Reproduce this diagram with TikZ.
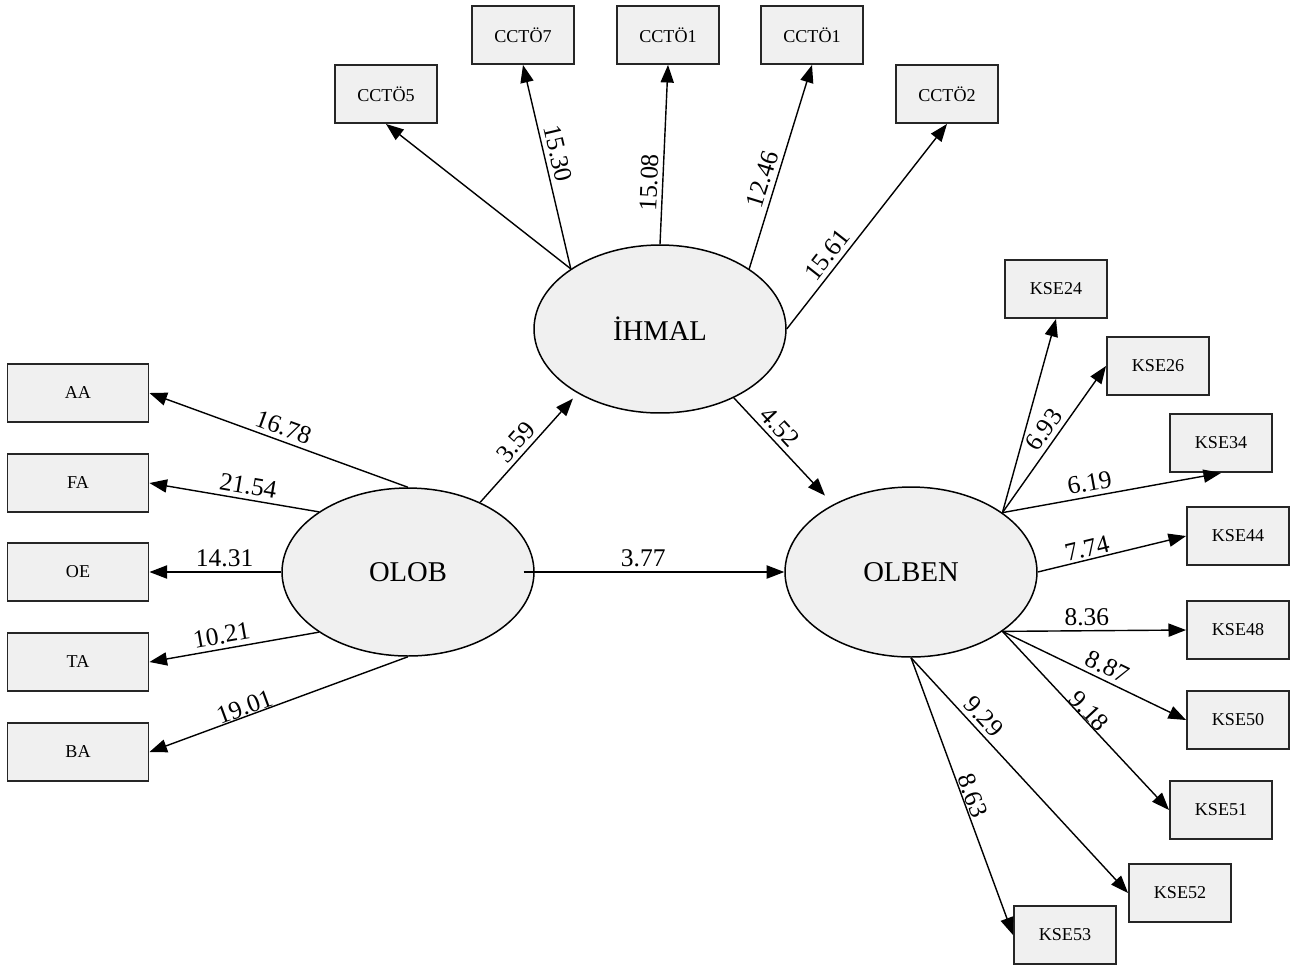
\documentclass[tikz,border=0pt]{standalone}
\usepackage{fontspec}
\setmainfont{Liberation Serif}
\usetikzlibrary{arrows.meta,shapes.geometric}

\tikzset{
  box/.style={draw=black!85, line width=1.1pt, fill=black!6, minimum width=2.04cm, minimum height=1.16cm, inner sep=0pt, font=\fontsize{10.3}{12}\selectfont},
  widebox/.style={box, minimum width=2.82cm},
  latent/.style={ellipse, draw, line width=0.85pt, fill=black!6, minimum width=5.04cm, minimum height=3.36cm, inner sep=0pt, font=\fontsize{16.3}{19}\selectfont},
  arr/.style={line width=0.8pt, -{Triangle[length=10pt,width=7.5pt]}},
  lbl/.style={font=\fontsize{14.5}{17}\selectfont, sloped, above, inner sep=2.5pt}
}

\begin{document}
\begin{tikzpicture}[x=0.02cm, y=-0.02cm]
\useasboundingbox (0,0) rectangle (1291,965);

\node [latent] (olob) at (408,572) {OLOB};
\node [latent] (ihmal) at (660,329) {İHMAL};
\node [latent, minimum height=3.4cm] (olben) at (911,572) {OLBEN};

\node [widebox] (aa) at (78,393) {AA};
\node [widebox] (fa) at (78,483) {FA};
\node [widebox] (oe) at (78,572) {OE};
\node [widebox] (ta) at (78,662) {TA};
\node [widebox] (ba) at (78,752) {BA};

\node [box] (cct5) at (386,94) {CCTÖ5};
\node [box] (cct7) at (523,35) {CCTÖ7};
\node [box] (cct1a) at (668,35) {CCTÖ1};
\node [box] (cct1b) at (812,35) {CCTÖ1};
\node [box] (cct2) at (947,94) {CCTÖ2};

\node [box] (kse24) at (1056,289) {KSE24};
\node [box] (kse26) at (1158,366) {KSE26};
\node [box] (kse34) at (1221,443) {KSE34};
\node [box] (kse44) at (1238,536) {KSE44};
\node [box] (kse48) at (1238,630) {KSE48};
\node [box] (kse50) at (1238,720) {KSE50};
\node [box] (kse51) at (1221,810) {KSE51};
\node [box] (kse52) at (1180,893) {KSE52};
\node [box] (kse53) at (1065,935) {KSE53};

\draw [arr] (olob.north) -- node (l1) [lbl, pos=0.5] {16.78} (aa.east);
\draw [arr] (olob.146) -- node (l2) [lbl, pos=0.43] {21.54} (fa.east);
\draw [arr] (olob.west) -- node (l3) [lbl, pos=0.43] {14.31} (oe.east);
\draw [arr] (olob.214) -- node (l4) [lbl, pos=0.56] {10.21} (ta.east);
\draw [arr] (olob.south) -- node (l5) [lbl, pos=0.62, inner sep=0pt] {19.01} (ba.east);

\draw [arr, shorten >=0.14cm] (olob.44) -- node (l6) [lbl, pos=0.47] {3.59} (ihmal.218);
\draw [arr, shorten <=-0.22cm] (olob.east) -- node (l7) [lbl, pos=0.435] {3.77} (olben.west);
\draw [arr, shorten >=0.24cm] (ihmal.-43) -- node (l8) [lbl, pos=0.36] {4.52} (olben.139);

\draw [arr] (ihmal.146) -- (cct5.south);
\draw [arr] (ihmal.146) -- node (l9) [lbl, pos=0.55] {15.30} (cct7.south);
\draw [arr] (ihmal.north) -- node (l10) [lbl, pos=0.34] {15.08} (cct1a.south);
\draw [arr] (ihmal.34) -- node (l11) [lbl, pos=0.42] {12.46} (cct1b.south);
\draw [arr] (ihmal.east) -- node (l12) [lbl, pos=0.32] {15.61} (cct2.south);

\draw [arr] (olben.33) -- (kse24.south);
\draw [arr] (olben.33) -- node (l13) [lbl, pos=0.51] {6.93} (kse26.west);
\draw [arr] (olben.33) -- node (l14) [lbl, pos=0.41] {6.19} (kse34.south);
\draw [arr] (olben.east) -- node (l15) [lbl, pos=0.35, inner sep=1pt] {7.74} (kse44.west);
\draw [arr] (olben.-33) -- node (l16) [lbl, pos=0.46] {8.36} (kse48.west);
\draw [arr] (olben.-33) -- node (l17) [lbl, pos=0.54] {8.87} (kse50.west);
\draw [arr] (olben.-33) -- node (l18) [lbl, pos=0.48, inner sep=0pt] {9.18} (kse51.west);
\draw [arr] (olben.south) -- node (l19) [lbl, pos=0.29] {9.29} (kse52.west);
\draw [arr] (olben.south) -- node (l20) [lbl, pos=0.51, inner sep=0.5pt] {8.63} (kse53.west);
\end{tikzpicture}
\end{document}
